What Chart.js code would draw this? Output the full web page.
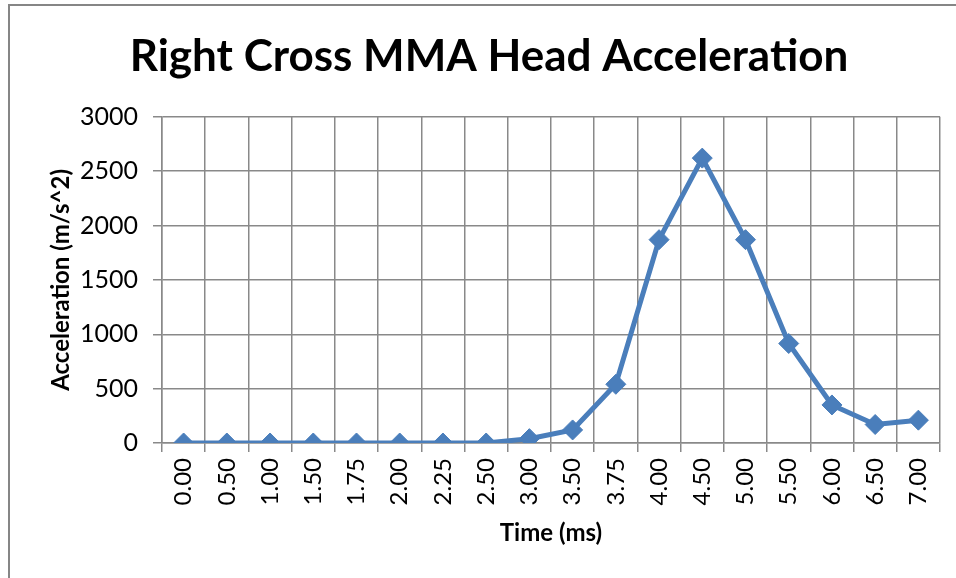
<!DOCTYPE html>
<html>
<head>
<meta charset="utf-8">
<script src="https://cdn.jsdelivr.net/npm/chart.js@4.4.0/dist/chart.umd.min.js"></script>
<style>
  html, body { margin: 0; padding: 0; background: #fff; }
  #wrap { width: 956px; height: 578px; }
</style>
</head>
<body>
<div id="wrap"><canvas id="accelChart" width="956" height="578"></canvas></div>
<script>
// time stamps (ms) used as categories
const timeLabels = ['0.00', '0.50', '1.00', '1.50', '1.75', '2.00', '2.25', '2.50', '3.00',
    '3.50', '3.75', '4.00', '4.50', '5.00', '5.50', '6.00', '6.50', '7.00'];
// head acceleration (m/s^2)
const accelValues = [0, 0, 0, 0, 0, 0, 0, 0, 40, 120, 540, 1870, 2620, 1870, 915, 350, 170, 210];
const yTicks = [0, 500, 1000, 1500, 2000, 2500, 3000];

const gridGray = '#898989';
const lineBlue = '#4a7ebb';

// outer frame like the Excel chart border
const framePlugin = {
    id: 'frame',
    beforeDraw(chart) {
        const ctx = chart.ctx;
        ctx.save();
        ctx.fillStyle = '#fff';
        ctx.fillRect(0, 0, chart.width, chart.height);
        ctx.strokeStyle = '#868686';
        ctx.lineWidth = 2;
        ctx.strokeRect(9, 5, chart.width + 20, chart.height + 20);
        ctx.restore();
    }
};

document.addEventListener("DOMContentLoaded", () => {
    const ctx = document.getElementById('accelChart').getContext('2d');
    new Chart(ctx, {
        type: 'line',
        data: {
            labels: timeLabels,
            datasets: [{
                label: 'Acceleration',
                data: accelValues,
                borderColor: lineBlue,
                backgroundColor: lineBlue,
                borderWidth: 5,
                pointStyle: 'rectRot',
                pointRadius: 10,
                pointBorderWidth: 1,
                tension: 0,
                fill: false
            }]
        },
        options: {
            responsive: false,
            animation: false,
            layout: {
                padding: { left: 38, right: 16, top: 0, bottom: 20 }
            },
            plugins: {
                legend: { display: false },
                tooltip: { enabled: false },
                title: {
                    display: true,
                    text: 'Right Cross MMA Head Acceleration',
                    color: '#000',
                    font: { family: 'Lato', size: 44, weight: 'bold' },
                    padding: { top: 30, bottom: 34 }
                }
            },
            scales: {
                x: {
                    type: 'category',
                    offset: true,
                    grid: {
                        offset: true,
                        color: gridGray,
                        lineWidth: 1.5,
                        tickLength: 9,
                        tickColor: gridGray
                    },
                    border: { color: gridGray, width: 1.5 },
                    ticks: {
                        color: '#000',
                        minRotation: 90,
                        maxRotation: 90,
                        padding: 6,
                        font: { family: 'Lato', size: 24 }
                    },
                    title: {
                        display: true,
                        text: 'Time (ms)',
                        color: '#000',
                        font: { family: 'Lato', size: 24, weight: 'bold' },
                        padding: { top: 0, bottom: 10 }
                    },
                    afterFit(scale) { scale.height = 115; }
                },
                y: {
                    min: 0,
                    max: 3000,
                    grid: {
                        color: gridGray,
                        lineWidth: 1.5,
                        tickLength: 9,
                        tickColor: gridGray
                    },
                    border: { color: gridGray, width: 1.5 },
                    afterBuildTicks(scale) {
                        scale.ticks = yTicks.map(v => ({ value: v }));
                    },
                    ticks: {
                        color: '#000',
                        padding: 15,
                        font: { family: 'Lato', size: 25 },
                        callback: (value) => String(value)
                    },
                    title: {
                        display: true,
                        text: 'Acceleration (m/s^2)',
                        color: '#000',
                        font: { family: 'Lato', size: 24, weight: 'bold' },
                        padding: { top: 9, bottom: 0 }
                    },
                    afterFit(scale) { scale.width = 124; }
                }
            }
        },
        plugins: [framePlugin]
    });
});
</script>
</body>
</html>
